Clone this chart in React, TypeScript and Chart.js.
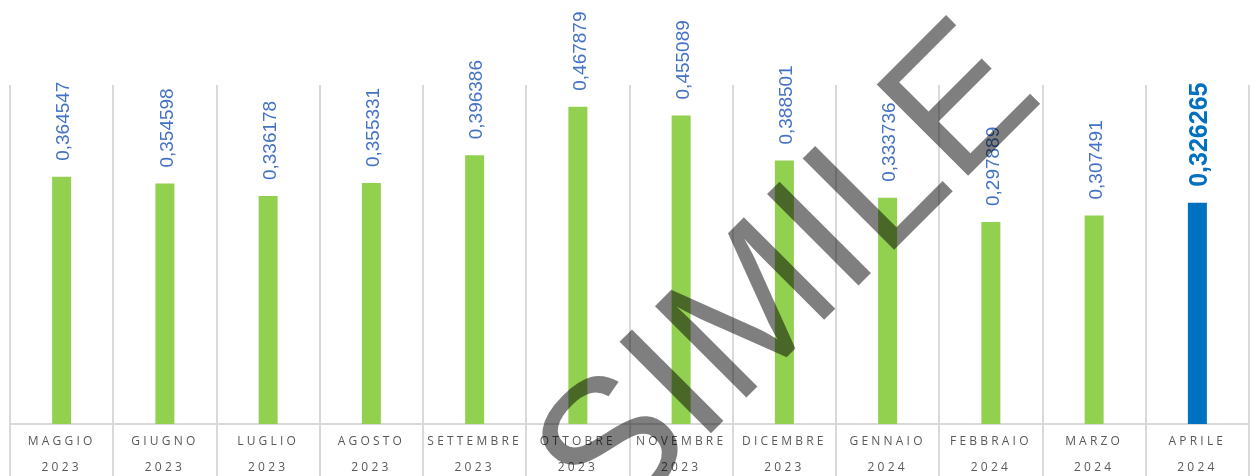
import { useEffect, useRef } from 'react';
import { Chart, registerables } from 'chart.js';

Chart.register(...registerables);

const months = ['MAGGIO', 'GIUGNO', 'LUGLIO', 'AGOSTO', 'SETTEMBRE', 'OTTOBRE', 'NOVEMBRE', 'DICEMBRE', 'GENNAIO', 'FEBBRAIO', 'MARZO', 'APRILE'];
const years = ['2023', '2023', '2023', '2023', '2023', '2023', '2023', '2023', '2024', '2024', '2024', '2024'];
const values = [0.364547, 0.354598, 0.336178, 0.355331, 0.396386, 0.467879, 0.455089, 0.388501, 0.333736, 0.297889, 0.307491, 0.326265];
const highlightIndex = 11;
const watermarkText = 'SIMILE';

const GREEN = '#92D050';
const BLUE = '#0070C0';
const LABEL_BLUE = '#4472C4';
const GRID = '#D9D9D9';

const fmt = (v: number) => v.toFixed(6).replace('.', ',');

const spacedTicksPlugin = {
  id: 'spacedTicks',
  beforeDraw(chart: any) {
    chart.ctx.letterSpacing = '3.2px';
  },
  beforeDatasetsDraw(chart: any) {
    chart.ctx.letterSpacing = '0px';
  },
};

const valueLabelsPlugin = {
  id: 'valueLabels',
  afterDatasetsDraw(chart: any) {
    const ctx = chart.ctx as CanvasRenderingContext2D;
    const meta = chart.getDatasetMeta(0);
    meta.data.forEach((bar: any, i: number) => {
      const hi = i === highlightIndex;
      const size = hi ? 25 : 19;
      const capH = size * 0.716;
      ctx.save();
      (ctx as any).letterSpacing = '0px';
      ctx.font = `${hi ? 'bold ' : ''}${size}px "Liberation Sans", Arial, sans-serif`;
      ctx.fillStyle = hi ? BLUE : LABEL_BLUE;
      ctx.textAlign = 'left';
      ctx.textBaseline = 'alphabetic';
      ctx.translate(bar.x + 1 + capH / 2, bar.y - 16);
      ctx.rotate(-Math.PI / 2);
      ctx.fillText(fmt(values[i]), 0, 0);
      ctx.restore();
    });
  },
};

const watermarkPlugin = {
  id: 'watermark',
  afterDraw(chart: any) {
    const ctx = chart.ctx as CanvasRenderingContext2D;
    const w = chart.width;
    const h = chart.height;
    ctx.save();
    (ctx as any).letterSpacing = '0px';
    ctx.fillStyle = 'rgba(0,0,0,0.5)';
    ctx.font = '188px "Liberation Sans", Arial, sans-serif';
    ctx.textAlign = 'left';
    ctx.textBaseline = 'alphabetic';
    ctx.translate(w * 0.488, h * 1.122);
    ctx.rotate(-Math.PI / 4);
    ctx.fillText(watermarkText, 0, 0);
    ctx.restore();
  },
};

export default function App() {
  const canvasRef = useRef<HTMLCanvasElement | null>(null);

  useEffect(() => {
    if (!canvasRef.current) return;
    const chart = new Chart(canvasRef.current, {
      type: 'bar',
      data: {
        labels: months.map((m, i) => [m, years[i]]),
        datasets: [
          {
            data: values,
            backgroundColor: values.map((_, i) => (i === highlightIndex ? BLUE : GREEN)),
            borderWidth: 0,
            categoryPercentage: 1,
            barPercentage: 0.184,
          },
        ],
      },
      options: {
        animation: false,
        responsive: true,
        maintainAspectRatio: false,
        events: [],
        layout: { padding: { top: 85, left: 10, right: 1, bottom: 0 } },
        plugins: {
          legend: { display: false },
          tooltip: { enabled: false },
          title: { display: false },
        },
        scales: {
          x: {
            offset: true,
            grid: {
              offset: true,
              color: GRID,
              lineWidth: 2,
              drawTicks: true,
              tickLength: 52,
              drawOnChartArea: true,
            },
            border: { display: true, color: GRID, width: 2 },
            ticks: {
              padding: -47.5,
              color: '#595959',
              autoSkip: false,
              maxRotation: 0,
              minRotation: 0,
              font: { family: '"Open Sans", sans-serif', size: 12, lineHeight: 26 / 12 },
            },
            afterFit: (scale: any) => {
              scale.height = 52;
            },
          },
          y: {
            display: false,
            min: 0,
            max: 0.5,
          },
        },
      },
      plugins: [spacedTicksPlugin, valueLabelsPlugin, watermarkPlugin],
    } as any);
    return () => chart.destroy();
  }, []);

  return (
    <div style={{ position: 'fixed', left: 0, top: 0, width: 1250, height: 476, background: '#fff' }}>
      <canvas ref={canvasRef} />
    </div>
  );
}
